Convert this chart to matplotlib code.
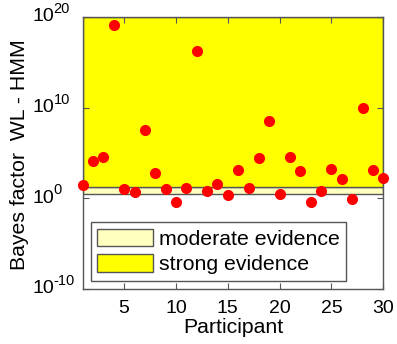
import matplotlib
matplotlib.use("Agg")
import matplotlib.pyplot as plt
import matplotlib.transforms as mtransforms
from matplotlib.patches import Rectangle, Patch
from matplotlib.ticker import FixedLocator, NullLocator

plt.rcParams['font.family'] = ['Liberation Sans', 'DejaVu Sans']

participants = list(range(1, 31))
bayes_factor = [3.2e1, 1.4e4, 3.3e4, 1.2e19, 1.1e1, 4.9e0, 3.4e7, 5.8e2, 1.1e1, 3.6e-1,
                1.5e1, 1.9e16, 6.9e0, 4.1e1, 2.1e0, 1.2e3, 1.3e1, 2.6e4, 3.3e8, 3.0e0,
                3.9e4, 9.5e2, 3.6e-1, 6.9e0, 1.6e3, 1.2e2, 8.3e-1, 9.1e9, 1.4e3, 1.7e2]
moderate_range = [3, 20]
strong_range = [20, 1e20]
x_ticks = [5, 10, 15, 20, 25, 30]
y_ticks = [1e-10, 1e0, 1e10, 1e20]
y_tick_exponents = ["-10", "0", "10", "20"]
legend_labels = ["moderate evidence", "strong evidence"]

col_mod = '#FFFFC0'
col_strong = '#FFFF00'
edge = '#555555'
fs_tick = 14
fs_sup = 10.5
fs_lab = 15.3

fig = plt.figure(figsize=(3.97, 3.44), dpi=100)
ax = fig.add_axes([0.2083, 0.1599, 0.7572, 0.7907])
ax.set_yscale('log')
ax.set_xlim(1, 30)
ax.set_ylim(1e-10, 1e20)

ax.add_patch(Rectangle((1, moderate_range[0]), 29, moderate_range[1] - moderate_range[0],
                       facecolor=col_mod, edgecolor=edge, linewidth=1.0, zorder=1))
ax.add_patch(Rectangle((1, strong_range[0]), 29, strong_range[1] - strong_range[0],
                       facecolor=col_strong, edgecolor=edge, linewidth=1.0, zorder=1))

ax.plot(participants, bayes_factor, 'o', color='#FF0000', markersize=8,
        markeredgewidth=0, zorder=5, clip_on=False)

ax.xaxis.set_major_locator(FixedLocator(x_ticks))
ax.yaxis.set_major_locator(FixedLocator(y_ticks))
ax.yaxis.set_minor_locator(NullLocator())
ax.tick_params(direction='in', length=4, width=0.8, colors=edge, labelcolor='black',
               labelsize=fs_tick, top=True, right=True)
ax.tick_params(axis='x', pad=8)
ax.tick_params(axis='y', labelleft=False)
for s in ax.spines.values():
    s.set_color(edge)
    s.set_linewidth(1.0)
    s.set_zorder(3)

# y tick labels as 10 with superscript, left aligned (MATLAB style)
trans = mtransforms.blended_transform_factory(fig.transFigure, ax.transData)
for val, ex in zip(y_ticks, y_tick_exponents):
    base = ax.text(32 / 397, val, "10", transform=trans, ha='left', va='center',
                   fontsize=fs_tick, clip_on=False)
    ax.annotate(ex, xy=(1.0, 0.55), xycoords=base, ha='left', va='bottom',
                fontsize=fs_sup, annotation_clip=False)

ax.set_xlabel("Participant", fontsize=fs_lab, labelpad=1)
ax.set_ylabel("Bayes factor  WL - HMM", fontsize=fs_lab)
ax.yaxis.set_label_coords(20 / 397, 1 - 155 / 344, transform=fig.transFigure)
ax.yaxis.label.set_verticalalignment('center')

handles = [Patch(facecolor=col_mod, edgecolor=edge, linewidth=1.0),
           Patch(facecolor=col_strong, edgecolor=edge, linewidth=1.0)]
leg = ax.legend(handles, legend_labels, loc='lower left',
                bbox_to_anchor=(91 / 397, (344 - 280.7) / 344), bbox_transform=fig.transFigure,
                fontsize=fs_lab, fancybox=False, framealpha=1, edgecolor=edge,
                handlelength=2.6, handleheight=0.9, handletextpad=0.3,
                borderpad=0.3, labelspacing=0.25, borderaxespad=0)
leg.get_frame().set_linewidth(1.0)

fig.savefig("out.png", dpi=100)
